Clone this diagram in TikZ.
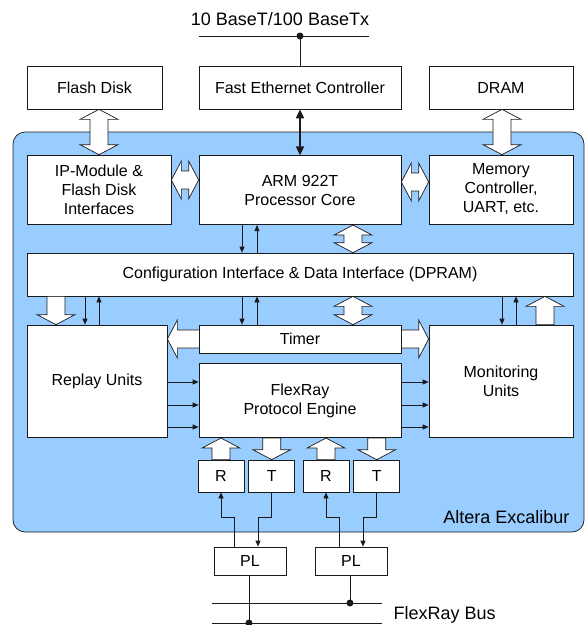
\documentclass[tikz,border=0pt]{standalone}
\usepackage{fontspec}
\setmainfont{Liberation Sans}
\usepackage{xcolor}
\usetikzlibrary{arrows.meta,positioning,calc}
\definecolor{fpga}{HTML}{99CCFF}
\definecolor{ln}{HTML}{1A1A1A}
\newcommand{\BoxFont}{\fontsize{16}{19}\selectfont}
\newcommand{\LblFont}{\fontsize{18}{21}\selectfont}
% hollow block arrows, drawn between two points
\newcommand{\FatEnds}[2]{%
  \path #1 coordinate (fa1) #2 coordinate (fa2);
  \path let \p1=($(fa2)-(fa1)$) in
    \pgfextra{\pgfmathsetmacro\FaAng{atan2(\y1,\x1)}\pgfmathsetmacro\FaLen{veclen(\x1,\y1)}%
      \xdef\FaAng{\FaAng}\xdef\FaLen{\FaLen}};}
\newcommand{\FatArrow}[2]{\FatEnds{#1}{#2}%
  \draw[fat,shift={(fa1)},rotate=\FaAng] (0pt,-9pt) -- (\FaLen pt-10pt,-9pt) -- (\FaLen pt-10pt,-19pt)
    -- (\FaLen pt,0pt) -- (\FaLen pt-10pt,19pt) -- (\FaLen pt-10pt,9pt) -- (0pt,9pt) -- cycle;}
\newcommand{\FatDbl}[2]{\FatEnds{#1}{#2}%
  \draw[fat,shift={(fa1)},rotate=\FaAng] (10pt,-9pt) -- (\FaLen pt-10pt,-9pt) -- (\FaLen pt-10pt,-19pt)
    -- (\FaLen pt,0pt) -- (\FaLen pt-10pt,19pt) -- (\FaLen pt-10pt,9pt) -- (10pt,9pt) -- (10pt,19pt)
    -- (0pt,0pt) -- (10pt,-19pt) -- cycle;}

\begin{document}
\begin{tikzpicture}[x=1pt, y=-1pt,
    box/.style={draw=ln, fill=white, line width=0.7pt, inner sep=0pt, align=center, font=\BoxFont},
    fat/.style={draw=ln, fill=white, line width=0.7pt, line join=miter},
    arr/.style={draw=ln, line width=0.7pt, -{Triangle[length=6pt,width=5pt]}},
    wire/.style={draw=ln, line width=0.9pt}]
  \useasboundingbox (0,0) rectangle (586,625);

  % FPGA area
  \node[draw=ln, fill=fpga, line width=0.7pt, rounded corners=12pt, minimum width=571pt, minimum height=400pt, inner sep=0pt]
    (excal) at (298.5,332) {};
  \node[anchor=east, font=\LblFont] (excalLbl) at (573,517) {Altera Excalibur};

  % outside parts
  \node[box, minimum width=202pt, minimum height=43pt] (fec) at (300,87.5) {Fast Ethernet Controller};
  \node[box, minimum width=135pt, minimum height=43pt] (flash) at (94.5,87.5) {Flash Disk};
  \node[box, minimum width=144pt, minimum height=43pt] (dram) at (501,87.5) {DRAM};
  \node[font=\LblFont] (eth) at (280,19) {10 BaseT/100 BaseTx};
  \draw[wire] (199,36) -- (369,36);
  \draw[wire] (fec.north) -- (fec.north |- 0,36);
  \fill[ln] (fec.north |- 0,36) circle (3.5pt);

  % processor row
  \node[box, minimum width=202pt, minimum height=69pt, below=46pt of fec] (arm) {ARM 922T\\Processor Core};
  \node[box, minimum width=144pt, minimum height=69pt] (ip) at (99,189.5) {IP-Module \&\\Flash Disk\\Interfaces};
  \node[box, minimum width=144pt, minimum height=69pt] (mem) at (501,189.5) {Memory\\Controller,\\UART, etc.};
  \draw[draw=ln, line width=1.8pt, {Triangle[length=9pt,width=8pt]}-{Triangle[length=9pt,width=8pt]}] (fec.south) -- (arm.north);
  \FatDbl{(99,0 |- flash.south)}{(99,0 |- ip.north)}
  \FatDbl{(502,0 |- dram.south)}{(502,0 |- mem.north)}
  \FatDbl{(ip.east |- 0,180)}{(arm.west |- 0,180)}
  \FatDbl{(arm.east |- 0,182)}{(mem.west |- 0,182)}

  % DPRAM
  \node[box, minimum width=546pt, minimum height=43pt] (cfg) at (300,274.5) {Configuration Interface \& Data Interface (DPRAM)};
  \draw[arr] (242,0 |- arm.south) -- (242,0 |- cfg.north);
  \draw[arr] (257,0 |- cfg.north) -- (257,0 |- arm.south);
  \FatDbl{(353,0 |- arm.south)}{(353,0 |- cfg.north)}

  % units
  \node[box, minimum width=140pt, minimum height=112pt] (replay) at (97,381) {Replay Units};
  \node[box, minimum width=144pt, minimum height=112pt] (mon) at (501,381) {Monitoring\\Units};
  \coordinate (tmr) at (300,339);
  \FatDbl{(replay.east |- tmr)}{(mon.west |- tmr)}
  \node[box, minimum width=202pt, minimum height=28pt] (timer) at (tmr) {Timer};
  \node[box, minimum width=202pt, minimum height=74pt, below=10pt of timer] (fpe) {FlexRay\\Protocol Engine};

  \draw[arr] (242,0 |- cfg.south) -- (242,0 |- timer.north);
  \draw[arr] (257,0 |- timer.north) -- (257,0 |- cfg.south);
  \FatDbl{(353,0 |- cfg.south)}{(353,0 |- timer.north)}
  \FatArrow{(56,0 |- cfg.south)}{(56,0 |- replay.north)}
  \draw[arr] (85,0 |- cfg.south) -- (85,0 |- replay.north);
  \draw[arr] (99,0 |- replay.north) -- (99,0 |- cfg.south);
  \draw[arr] (502,0 |- cfg.south) -- (502,0 |- mon.north);
  \draw[arr] (516,0 |- mon.north) -- (516,0 |- cfg.south);
  \FatArrow{(545,0 |- mon.north)}{(545,0 |- cfg.south)}
  \foreach \y in {382,405,427} {
    \draw[arr] (replay.east |- 0,\y) -- (fpe.west |- 0,\y);
    \draw[arr] (fpe.east |- 0,\y) -- (mon.west |- 0,\y);
  }

  % receivers / transmitters
  \node[box, minimum width=46pt, minimum height=32pt] (r1) at (221,476) {R};
  \node[box, minimum width=46pt, minimum height=32pt, right=4pt of r1] (t1) {T};
  \node[box, minimum width=46pt, minimum height=32pt] (r2) at (326,476) {R};
  \node[box, minimum width=46pt, minimum height=32pt, right=4pt of r2] (t2) {T};
  \FatArrow{(r1.north)}{(r1.north |- fpe.south)}
  \FatArrow{(t1.north |- fpe.south)}{(t1.north)}
  \FatArrow{(r2.north)}{(r2.north |- fpe.south)}
  \FatArrow{(t2.north |- fpe.south)}{(t2.north)}

  % physical layer and bus
  \node[box, minimum width=72pt, minimum height=28pt] (pl1) at (250,561) {PL};
  \node[box, minimum width=72pt, minimum height=28pt] (pl2) at (351,561) {PL};
  \draw[arr] (234,0 |- pl1.north) -- ++(0,-29) -| (r1.south);
  \draw[arr] (t1.south) -- ++(0,25) -| (258,0 |- pl1.north);
  \draw[arr] (339,0 |- pl2.north) -- ++(0,-29) -| (r2.south);
  \draw[arr] (t2.south) -- ++(0,25) -| (363,0 |- pl2.north);
  \draw[wire] (212,603) -- (382,603);
  \draw[wire] (212,623) -- (382,623);
  \draw[wire] (249,0 |- pl1.south) -- (249,623);
  \draw[wire] (350,0 |- pl2.south) -- (350,603);
  \fill[ln] (249,623) circle (3.5pt);
  \fill[ln] (350,603) circle (3.5pt);
  \node[anchor=west, font=\LblFont] (busLbl) at (390,615) {FlexRay Bus};
\end{tikzpicture}
\end{document}
